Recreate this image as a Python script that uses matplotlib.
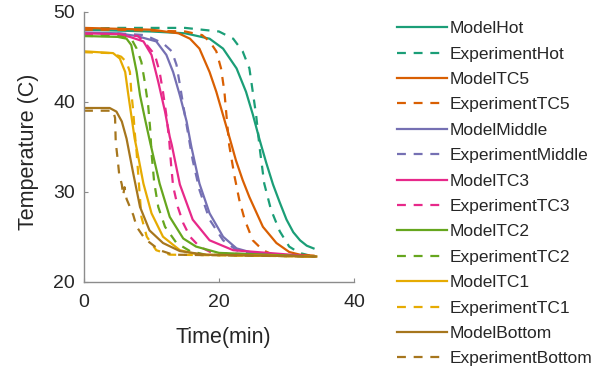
import matplotlib
matplotlib.use("Agg")
import matplotlib.pyplot as plt

plt.rcParams['font.family'] = ['Liberation Sans', 'DejaVu Sans']

labels = ["ModelHot", "ExperimentHot", "ModelTC5", "ExperimentTC5",
          "ModelMiddle", "ExperimentMiddle", "ModelTC3", "ExperimentTC3",
          "ModelTC2", "ExperimentTC2", "ModelTC1", "ExperimentTC1",
          "ModelBottom", "ExperimentBottom"]

colors = ["#1b9e77", "#d95f02", "#7570b3", "#e7298a", "#66a61e", "#e6ab02", "#a6761d"]

model_hot_t = [0, 5, 10, 15, 18.6, 20.6, 22.6, 24.0, 25.0, 26.0, 27.0, 28.0, 29.0, 30.0, 31.0, 32.0, 33.0, 34.0]
model_hot_T = [48.0, 47.9, 47.8, 47.6, 47.0, 45.9, 43.7, 41.1, 38.6, 35.8, 33.2, 30.8, 28.8, 26.9, 25.5, 24.6, 24.0, 23.7]
exp_hot_t = [0, 5, 10, 15, 20, 22.1, 23.5, 24.5, 25.0, 25.5, 26.0, 26.7, 27.7, 29.0, 30.4, 31.9, 34.0]
exp_hot_T = [48.1, 48.2, 48.2, 48.2, 47.8, 47.0, 45.6, 43.7, 41.1, 38.5, 35.0, 30.9, 28.0, 25.6, 23.9, 23.2, 22.8]

model_tc5_t = [0, 5, 10, 14, 15.7, 17.1, 18.6, 19.6, 20.6, 21.6, 22.5, 23.5, 24.5, 26.5, 28.5, 30.4, 32, 34.0]
model_tc5_T = [48.2, 48.1, 48.0, 47.6, 47.0, 45.9, 43.3, 41.1, 38.5, 35.9, 33.5, 31.3, 29.4, 26.1, 24.3, 23.3, 23.0, 22.9]
exp_tc5_t = [0, 5, 10, 15, 17.5, 18.6, 19.6, 20.3, 20.8, 21.1, 21.5, 21.8, 22.3, 23.0, 23.8, 25.0, 26.5, 28, 34]
exp_tc5_T = [48.0, 48.0, 47.9, 47.8, 47.4, 46.7, 45.6, 43.7, 41.1, 38.5, 35.2, 33.9, 31.7, 29.1, 26.9, 24.6, 23.5, 23.0, 22.8]

model_mid_t = [0, 5, 7.8, 10.7, 12.2, 13.2, 14.2, 15.2, 15.9, 17.1, 18.6, 20.6, 22.6, 25.5, 34]
model_mid_T = [47.7, 47.6, 47.3, 46.7, 45.2, 43.3, 40.7, 37.8, 35.0, 30.9, 27.6, 25.0, 23.7, 23.1, 22.8]
exp_mid_t = [0, 5, 9, 11.7, 13.0, 13.7, 14.2, 14.7, 15.2, 15.7, 16.1, 17.1, 18.6, 20.6, 22.6, 25, 34]
exp_mid_T = [47.6, 47.6, 47.4, 46.5, 45.6, 44.1, 41.9, 39.6, 37.4, 35.2, 33.5, 30.2, 26.9, 24.6, 23.5, 23.0, 22.8]

model_tc3_t = [0, 5, 6.8, 8.8, 10.0, 11.0, 12.0, 12.7, 13.0, 14.2, 16.1, 18.6, 22.1, 34]
model_tc3_T = [47.6, 47.5, 47.2, 46.7, 45.2, 42.2, 38.9, 36.1, 35.2, 30.8, 26.9, 24.6, 23.5, 22.8]
exp_tc3_t = [0, 5, 8, 9.3, 10.5, 11.2, 11.7, 12.2, 12.6, 12.9, 13.2, 13.9, 14.7, 15.7, 17.1, 19, 34]
exp_tc3_T = [47.5, 47.5, 47.3, 46.3, 45.2, 43.3, 41.1, 38.5, 35.9, 33.0, 30.6, 28.3, 26.5, 25.0, 23.9, 23.2, 22.8]

model_tc2_t = [0, 5, 6.3, 7.0, 7.8, 8.3, 9.0, 9.7, 11.2, 12.7, 14.7, 16.6, 20, 34]
model_tc2_T = [47.3, 47.2, 47.0, 46.3, 43.3, 40.7, 38.2, 35.8, 30.9, 27.2, 24.8, 23.9, 23.2, 22.8]
exp_tc2_t = [0, 5, 7.0, 7.8, 8.5, 9.0, 9.5, 9.8, 10.0, 10.4, 11.0, 12.0, 13.7, 15.7, 18, 34]
exp_tc2_T = [47.3, 47.3, 47.0, 45.9, 44.4, 42.2, 39.6, 37.0, 34.3, 31.0, 28.3, 26.1, 24.3, 23.4, 23.0, 22.8]

model_tc1_t = [0, 4.3, 5.3, 6.1, 6.5, 7.0, 7.5, 7.8, 8.8, 10.0, 11.7, 14.2, 17, 34.4]
model_tc1_T = [45.6, 45.4, 44.8, 43.3, 41.1, 38.5, 35.9, 34.8, 30.9, 27.6, 25.0, 23.5, 23.0, 22.8]
exp_tc1_t = [0, 4, 5.5, 6.3, 6.8, 7.0, 7.3, 7.5, 7.8, 8.2, 8.5, 9.3, 10.7, 12.7, 34.4]
exp_tc1_T = [45.5, 45.4, 45.0, 44.4, 43.3, 41.1, 38.9, 36.7, 34.3, 30.2, 27.2, 25.0, 23.5, 23.0, 22.8]

model_bot_t = [0, 3.8, 4.8, 5.6, 6.3, 7.3, 8.3, 9.7, 11.7, 14.2, 18, 34.4]
model_bot_T = [39.3, 39.3, 38.9, 37.8, 35.9, 32.0, 28.3, 25.7, 24.3, 23.4, 23.0, 22.8]
exp_bot_t = [0, 4.3, 4.6, 4.7, 5.0, 5.2, 5.6, 5.8, 6.0, 6.3, 6.8, 7.3, 7.8, 8.8, 9.3, 11.2, 13.2, 34.4]
exp_bot_T = [39.0, 39.0, 38.2, 35.5, 33.5, 32.0, 30.8, 29.6, 30.5, 29.2, 28.3, 27.4, 26.1, 25.0, 24.6, 23.5, 23.0, 22.8]

series = [
    (model_hot_t, model_hot_T, exp_hot_t, exp_hot_T),
    (model_tc5_t, model_tc5_T, exp_tc5_t, exp_tc5_T),
    (model_mid_t, model_mid_T, exp_mid_t, exp_mid_T),
    (model_tc3_t, model_tc3_T, exp_tc3_t, exp_tc3_T),
    (model_tc2_t, model_tc2_T, exp_tc2_t, exp_tc2_T),
    (model_tc1_t, model_tc1_T, exp_tc1_t, exp_tc1_T),
    (model_bot_t, model_bot_T, exp_bot_t, exp_bot_T),
]

x_ticks = [0, 20, 40]
y_ticks = [20, 30, 40, 50]

fig = plt.figure(figsize=(6.16, 3.74), dpi=100)
ax = fig.add_axes([0.1364, 0.2468, 0.4383, 0.7219])

handles = []
for i, (mt, mT, et, eT) in enumerate(series):
    h1, = ax.plot(mt, mT, color=colors[i], lw=1.6, label=labels[2 * i])
    h2, = ax.plot(et, eT, color=colors[i], lw=1.6, ls=(0, (4, 3.5)), label=labels[2 * i + 1])
    handles += [h1, h2]

ax.set_xlim(0, 40)
ax.set_ylim(20, 50)
ax.set_xticks(x_ticks)
ax.set_yticks(y_ticks)
for s in ["top", "right"]:
    ax.spines[s].set_visible(False)
for s in ["left", "bottom"]:
    ax.spines[s].set_color("#8c8c8c")
    ax.spines[s].set_linewidth(1.0)
ax.tick_params(direction="in", length=3, color="#8c8c8c", labelsize=14, labelcolor="#262626")
ax.tick_params(axis="y", pad=6.5)
ax.tick_params(axis="x", pad=8.5)
ax.set_xlabel("Time(min)", fontsize=15.5, color="#262626", va="top")
ax.set_ylabel("Temperature (C)", fontsize=15.5, color="#262626")
ax.xaxis.set_label_coords(0.516, -0.168)
ax.yaxis.set_label_coords(-0.167, 0.482)

leg = fig.legend(handles=handles, loc="upper left", bbox_to_anchor=(0.6328, 0.962),
                 frameon=False, fontsize=12.5, handlelength=2.88, handletextpad=0.19,
                 labelspacing=0.59, borderaxespad=0)
for t in leg.get_texts():
    t.set_color("#262626")

fig.savefig("out.png", dpi=100)
